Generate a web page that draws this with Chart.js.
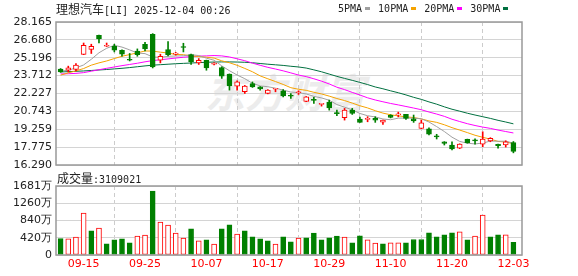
<!DOCTYPE html>
<html lang="zh">
<head>
<meta charset="UTF-8">
<title>理想汽车[LI] K线</title>
<script src="https://cdn.jsdelivr.net/npm/chart.js"></script>
<style>
  body { margin: 0; width: 578px; height: 276px; background: #fff; position: relative; overflow: hidden; font-family: 'DejaVu Sans Mono', monospace; }
  canvas { position: absolute; left: 0; top: 0; }
  .txt { position: absolute; font-size: 10px; color: #222; white-space: nowrap; line-height: 12px; }
  .cjk { font-family: 'Noto Sans CJK SC', sans-serif; font-size: 12px; }
  .sw { display: inline-block; width: 5px; height: 3px; margin: 0 8px 0 3px; vertical-align: 2px; }
  #wm { position: absolute; left: 205px; top: 62px; font: italic bold 40px 'Noto Sans CJK SC', sans-serif; color: #ececec; }
</style>
</head>
<body>
<div id="wm">东方财富</div>
<canvas id="price" width="578" height="276"></canvas>
<canvas id="vol" width="578" height="276"></canvas>
<div class="txt" style="left:56px; top:3px;"><span class="cjk">理想汽车</span>[LI] 2025-12-04 00:26</div>
<div class="txt" style="left:338px; top:3px;">5PMA<span class="sw" style="background:#a0a0a0"></span>10PMA<span class="sw" style="background:#f5a300"></span>20PMA<span class="sw" style="background:#ff00ff"></span>30PMA<span class="sw" style="background:#007040"></span></div>
<div class="txt" style="left:57px; top:172px;"><span class="cjk">成交量</span>:3109021</div>
<script>
// trading days, 2025-09-10 .. 2025-12-03
const dates = ['09-10','09-11','09-12','09-15','09-16','09-17','09-18','09-19','09-22','09-23',
  '09-24','09-25','09-26','09-29','09-30','10-01','10-02','10-03','10-06','10-07',
  '10-08','10-09','10-10','10-13','10-14','10-15','10-16','10-17','10-20','10-21',
  '10-22','10-23','10-24','10-27','10-28','10-29','10-30','10-31','11-03','11-04',
  '11-05','11-06','11-07','11-10','11-11','11-12','11-13','11-14','11-17','11-18',
  '11-19','11-20','11-21','11-24','11-25','11-26','11-28','12-01','12-02','12-03'];
const dateTicks = ['09-15','09-25','10-07','10-17','10-29','11-10','11-20','12-03'];

const open = [24.25,24.16,24.22,25.47,25.88,27.06,26.15,26.15,25.82,25.03,
  25.76,26.32,27.15,24.99,25.88,25.50,26.12,25.46,24.77,24.99,
  24.66,24.39,23.83,22.84,22.37,23.06,22.78,22.23,22.58,22.45,
  22.05,22.29,21.57,21.70,21.33,21.51,20.58,20.21,20.85,20.10,
  20.08,20.16,19.85,20.41,20.45,20.49,20.13,19.33,19.30,18.65,
  18.22,17.95,17.68,18.42,18.34,18.03,18.30,18.00,17.95,18.16];
const high = [24.30,24.50,24.72,26.42,26.32,27.08,26.42,26.32,25.85,25.55,
  25.93,26.48,27.20,25.49,26.54,25.65,26.40,25.50,25.13,25.00,
  24.80,24.45,23.85,23.28,22.90,23.19,22.80,22.55,22.63,22.56,
  22.23,22.45,21.98,21.90,21.37,21.68,20.85,20.99,20.99,20.27,
  20.30,20.30,20.02,20.47,20.68,20.50,20.44,20.02,19.38,18.84,
  18.23,18.22,18.05,18.44,18.47,19.05,18.56,18.02,18.30,18.24];
const low = [23.98,24.02,24.11,25.45,25.55,26.42,26.13,25.68,25.32,24.93,
  25.32,25.76,24.35,24.77,25.35,25.41,25.68,24.64,24.64,24.16,
  24.60,23.48,22.51,22.51,22.23,22.73,22.51,22.20,22.37,21.95,
  21.82,22.15,21.55,21.40,21.18,20.85,20.38,20.02,20.49,19.82,
  19.88,19.83,19.66,20.20,20.29,20.08,19.83,19.30,18.78,18.45,
  17.95,17.54,17.65,18.10,18.03,17.81,18.22,17.68,17.78,17.30];
const close = [24.02,24.35,24.58,26.23,26.15,26.76,26.20,25.82,25.49,24.99,
  25.46,25.93,24.44,25.32,25.46,25.55,26.05,24.85,24.99,24.35,
  24.72,23.67,22.86,23.19,22.84,22.78,22.61,22.51,22.62,22.03,
  22.00,22.33,21.95,21.66,21.36,21.04,20.55,20.85,20.57,19.83,
  20.12,20.02,20.02,20.24,20.50,20.16,19.96,19.80,18.86,18.63,
  18.09,17.62,18.03,18.14,18.30,18.45,18.50,17.90,18.22,17.42];

const ma5 = [24.08,24.16,24.35,24.60,25.07,25.61,25.98,26.23,26.08,25.85,
  25.59,25.54,25.26,25.23,25.32,25.34,25.36,25.45,25.38,25.16,
  24.99,24.52,24.12,23.76,23.46,23.07,22.86,22.79,22.67,22.51,
  22.35,22.30,22.19,21.99,21.86,21.67,21.31,21.09,20.87,20.57,
  20.38,20.28,20.11,20.05,20.18,20.19,20.18,20.13,19.86,19.48,
  19.07,18.60,18.25,18.10,18.04,18.11,18.28,18.26,18.27,18.10];
const ma10 = [23.75,23.94,24.11,24.30,24.58,24.77,24.93,25.13,25.32,25.46,
  25.60,25.76,25.75,25.66,25.59,25.47,25.45,25.35,25.30,25.24,
  25.17,24.94,24.78,24.57,24.31,24.03,23.69,23.45,23.22,22.98,
  22.71,22.58,22.49,22.33,22.19,22.01,21.81,21.64,21.43,21.21,
  21.03,20.80,20.60,20.46,20.37,20.29,20.23,20.12,19.95,19.83,
  19.63,19.39,19.19,18.98,18.76,18.59,18.44,18.25,18.19,18.07];
const ma20 = [23.85,23.87,23.90,23.96,24.08,24.20,24.32,24.43,24.54,24.64,
  24.74,24.86,24.96,25.03,25.10,25.17,25.24,25.29,25.33,25.35,
  25.38,25.35,25.26,25.11,24.95,24.75,24.57,24.40,24.26,24.11,
  23.94,23.76,23.63,23.45,23.25,23.02,22.75,22.55,22.32,22.10,
  21.87,21.69,21.54,21.40,21.28,21.15,21.02,20.88,20.69,20.52,
  20.33,20.09,19.90,19.72,19.57,19.44,19.33,19.19,19.07,18.95];
const ma30 = [24.02,24.04,24.07,24.10,24.14,24.18,24.22,24.27,24.32,24.38,
  24.45,24.52,24.58,24.62,24.66,24.70,24.73,24.76,24.79,24.82,
  24.84,24.85,24.85,24.84,24.82,24.78,24.72,24.66,24.61,24.56,
  24.49,24.43,24.34,24.19,24.03,23.84,23.65,23.48,23.32,23.15,
  22.97,22.77,22.62,22.45,22.29,22.11,21.91,21.74,21.53,21.34,
  21.12,20.92,20.76,20.59,20.44,20.30,20.16,20.00,19.86,19.71];

// volume in 万 shares; 1 = up day (red), 0 = down day (green)
const volume = [403,395,437,1019,589,655,274,371,395,298,
  461,485,1560,800,728,534,412,638,347,371,
  267,638,735,509,589,444,395,347,267,444,
  322,412,420,533,371,420,461,437,298,468,
  371,291,274,298,298,298,378,378,541,444,
  492,541,565,371,461,970,444,492,492,311];
const volDir = [0,1,1,1,0,1,0,0,0,0,
  1,1,0,1,1,1,1,0,1,0,
  1,0,0,1,0,0,0,0,1,0,
  0,1,0,0,0,0,0,1,0,0,
  1,1,0,1,1,0,0,0,0,0,
  0,0,1,0,1,1,0,0,1,0];

const priceTickLabels = ['16.290','17.775','19.259','20.743','22.227','23.712','25.196','26.680','28.165'];
const volTickValues = [0, 420.25, 840.5, 1260.75, 1681];
const volTickLabels = ['0','420万','840万','1260万','1681万'];

const RED = '#ff0000', GREEN = '#008000';
const xMin = -0.6, xMax = 60.12;
const idx = dates.map((d, i) => i);
const xTicks = dateTicks.map(d => dates.indexOf(d));
const isUp = close.map((c, i) => c >= open[i]);
const tickFont = { family: 'DejaVu Sans', size: 11 };

const framePlugin = {
  id: 'frame',
  afterDatasetsDraw(chart) {
    const a = chart.chartArea, c = chart.ctx;
    c.save();
    c.strokeStyle = '#999';
    c.lineWidth = 1.5;
    c.strokeRect(a.left, a.top, a.right - a.left, a.bottom - a.top);
    c.restore();
  }
};

function maSet(values, color) {
  return {
    type: 'line', data: idx.map(i => ({ x: i, y: values[i] })),
    borderColor: color, borderWidth: 1, pointRadius: 0, tension: 0, order: 2
  };
}

new Chart(document.getElementById('price'), {
  type: 'bar',
  data: {
    datasets: [
      maSet(ma5, '#a0a0a0'),
      maSet(ma10, '#f5a300'),
      maSet(ma20, '#ff00ff'),
      maSet(ma30, '#007040'),
      {
        data: idx.map(i => ({ x: i, y: [low[i], high[i]] })),
        backgroundColor: isUp.map(u => u ? RED : GREEN),
        barThickness: 1, grouped: false, order: 1
      },
      {
        data: idx.map(i => ({ x: i, y: [open[i], close[i]] })),
        backgroundColor: isUp.map(u => u ? '#fff' : GREEN),
        borderColor: isUp.map(u => u ? RED : GREEN),
        borderWidth: 1, borderSkipped: false, minBarLength: 1,
        barThickness: 5, grouped: false, order: 0
      }
    ]
  },
  options: {
    responsive: false, animation: false, events: [],
    layout: { padding: { top: 22, right: 56, bottom: 111, left: 0 } },
    plugins: { legend: { display: false }, tooltip: { enabled: false } },
    scales: {
      x: {
        type: 'linear', min: xMin, max: xMax, offset: false,
        afterBuildTicks: s => { s.ticks = xTicks.map(v => ({ value: v })); },
        afterFit: s => { s.height = 0; },
        ticks: { display: false },
        grid: { color: '#cccccc', drawTicks: false },
        border: { display: false, dash: [4, 3] }
      },
      y: {
        min: 16.29, max: 28.165,
        afterBuildTicks: s => { s.ticks = priceTickLabels.map(v => ({ value: Number(v) })); },
        afterFit: s => { s.width = 56; },
        ticks: { padding: 4, color: '#222', font: tickFont, callback: (v, i) => priceTickLabels[i] },
        grid: { color: '#d4d4d4', drawTicks: false },
        border: { display: false }
      }
    }
  },
  plugins: [framePlugin]
});

new Chart(document.getElementById('vol'), {
  type: 'bar',
  data: {
    datasets: [{
      data: idx.map(i => ({ x: i, y: volume[i] })),
      backgroundColor: volDir.map(u => u ? '#fff' : GREEN),
      borderColor: volDir.map(u => u ? RED : GREEN),
      borderWidth: 1, borderSkipped: false, barThickness: 5
    }]
  },
  options: {
    responsive: false, animation: false, events: [],
    layout: { padding: { top: 186, right: 56, bottom: 0, left: 0 } },
    plugins: { legend: { display: false }, tooltip: { enabled: false } },
    scales: {
      x: {
        type: 'linear', min: xMin, max: xMax, offset: false,
        afterBuildTicks: s => { s.ticks = xTicks.map(v => ({ value: v })); },
        afterFit: s => { s.height = 21; },
        ticks: { padding: 3, color: RED, font: tickFont, autoSkip: false, maxRotation: 0, callback: v => dates[v] },
        grid: { color: '#cccccc', drawTicks: false },
        border: { display: false, dash: [4, 3] }
      },
      y: {
        min: 0, max: 1681,
        afterBuildTicks: s => { s.ticks = volTickValues.map(v => ({ value: v })); },
        afterFit: s => { s.width = 56; },
        ticks: { padding: 4, color: '#222', font: tickFont, callback: (v, i) => volTickLabels[i] },
        grid: { color: '#d4d4d4', drawTicks: false },
        border: { display: false }
      }
    }
  },
  plugins: [framePlugin]
});
</script>
</body>
</html>
